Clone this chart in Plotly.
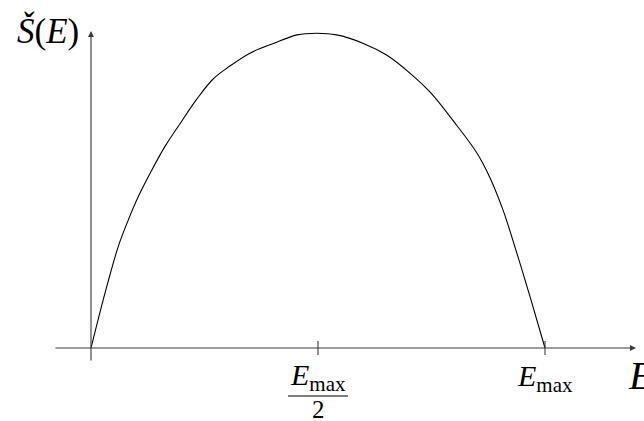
import plotly.graph_objects as go

# Energy in units of E_max, and the entropy curve normalised to its maximum
energy = [0.0, 0.031, 0.060, 0.082, 0.104, 0.134, 0.163, 0.196, 0.233, 0.269,
          0.306, 0.350, 0.402, 0.454, 0.497, 0.541, 0.600, 0.651, 0.703, 0.747,
          0.798, 0.850, 0.879, 0.908, 0.938, 0.967, 1.0]
entropy = [0.0, 0.175, 0.322, 0.406, 0.480, 0.565, 0.640, 0.712, 0.790, 0.854,
           0.895, 0.936, 0.967, 0.994, 0.999, 0.994, 0.967, 0.930, 0.872, 0.812,
           0.721, 0.619, 0.540, 0.436, 0.301, 0.163, 0.0]

tick_vals = [0.5, 1.0]

W, H = 644, 421
# pixel frame: origin at (91, 348), E_max at x=545, peak height 315 px
x0_px, y0_px, sx, sy = 91, 348, 454, 315
x_range = [-x0_px / sx, (W - x0_px) / sx]
y_range = [-(H - y0_px) / sy, y0_px / sy]


def px_x(p):
    return (p - x0_px) / sx


def px_y(p):
    return (y0_px - p) / sy


fig = go.Figure()
fig.add_trace(go.Scatter(
    x=energy, y=entropy, mode="lines",
    line=dict(color="black", width=1.1, shape="spline", smoothing=1.0),
    hoverinfo="skip", showlegend=False,
))

axis_col = "#3a3a3a"
serif = "Liberation Serif"
annotations = [
    # horizontal E axis with arrow
    dict(x=px_x(636), y=0, ax=px_x(54), ay=0, xref="x", yref="y",
         axref="x", ayref="y", showarrow=True, arrowhead=2, arrowsize=1.1,
         arrowwidth=1.1, arrowcolor=axis_col, standoff=0, startstandoff=0, text=""),
    # vertical S axis with arrow
    dict(x=0, y=px_y(31), ax=0, ay=px_y(362), xref="x", yref="y",
         axref="x", ayref="y", showarrow=True, arrowhead=2, arrowsize=1.1,
         arrowwidth=1.1, arrowcolor=axis_col, standoff=0, startstandoff=0, text=""),
    # axis titles
    dict(x=px_x(81), y=px_y(31), xref="x", yref="y", xanchor="right",
         yanchor="middle", showarrow=False,
         text="<i>Š</i>(<i>E</i>)",
         font=dict(family=serif, size=35, color="black")),
    dict(x=px_x(626), y=px_y(375), xref="x", yref="y", xanchor="left",
         yanchor="middle", showarrow=False, text="<i>E</i>",
         font=dict(family=serif, size=40, color="black")),
    # tick labels
    dict(x=tick_vals[1], y=px_y(378), xref="x", yref="y", xanchor="center",
         yanchor="middle", showarrow=False, text="<i>E</i><sub>max</sub>",
         font=dict(family=serif, size=30, color="black")),
    dict(x=tick_vals[0], y=px_y(377), xref="x", yref="y", xanchor="center",
         yanchor="middle", showarrow=False, text="<i>E</i><sub>max</sub>",
         font=dict(family=serif, size=30, color="black")),
    dict(x=tick_vals[0], y=px_y(409), xref="x", yref="y", xanchor="center",
         yanchor="middle", showarrow=False, text="2",
         font=dict(family=serif, size=25, color="black")),
]

shapes = []
for t in tick_vals:
    shapes.append(dict(type="line", xref="x", yref="y", x0=t, x1=t,
                       y0=px_y(341), y1=px_y(355),
                       line=dict(color=axis_col, width=1.1)))
# fraction bar under the half-maximum label
shapes.append(dict(type="line", xref="x", yref="y",
                   x0=tick_vals[0] - 30 / sx, x1=tick_vals[0] + 30 / sx,
                   y0=px_y(396), y1=px_y(396),
                   line=dict(color="black", width=1.1)))

fig.update_layout(
    width=W, height=H,
    margin=dict(l=0, r=0, t=0, b=0),
    paper_bgcolor="white", plot_bgcolor="white",
    xaxis=dict(range=x_range, visible=False, fixedrange=True),
    yaxis=dict(range=y_range, visible=False, fixedrange=True),
    annotations=annotations, shapes=shapes,
    showlegend=False,
)

fig.write_html("out.html", config={"displayModeBar": False})
